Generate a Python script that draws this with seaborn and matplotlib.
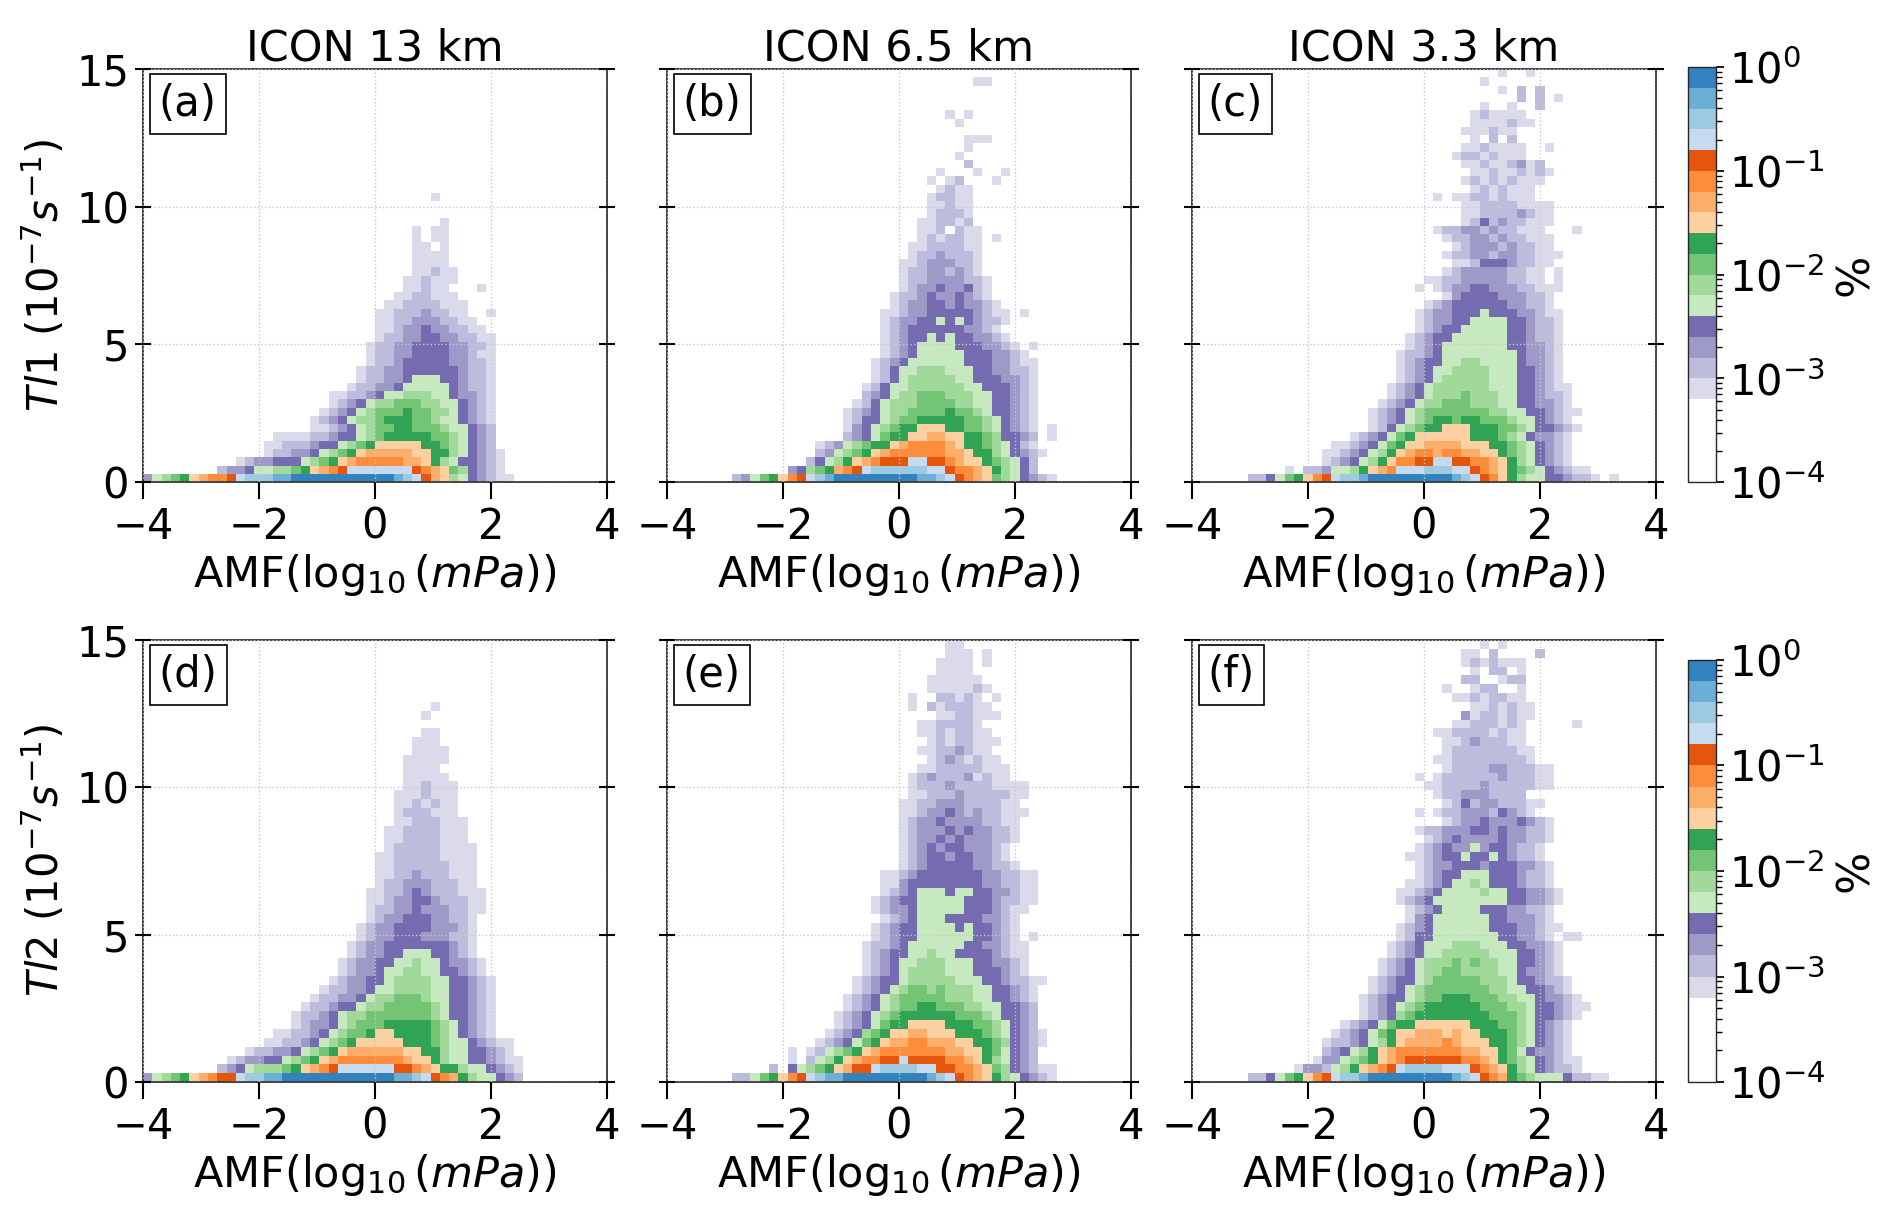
import numpy as np
import matplotlib
matplotlib.use("Agg")
import matplotlib.pyplot as plt
from matplotlib.colors import ListedColormap, LogNorm
from matplotlib.cm import ScalarMappable
import seaborn as sns

# bins of the 2D histograms
X_EDGES = np.linspace(-4, 4, 51)
Y_EDGES = np.linspace(0, 15, 51)

# colour class codes: 1..16 -> 0.2-decade classes from 10^-3.2 to 10^0 (%)
CODES = "123456789ABCDEFG"

TITLES = ["ICON 13 km", "ICON 6.5 km", "ICON 3.3 km"]
PANEL_LABELS = ["(a)", "(b)", "(c)", "(d)", "(e)", "(f)"]
YLABELS = [r"$Tl1$ ($10^{-7}s^{-1}$)", r"$Tl2$ ($10^{-7}s^{-1}$)"]

# each entry = one y-bin row (from y=0 upward): "first x-bin:class codes"
PANEL_A = [
    "0:356789ABBCDEEEFFGGGGGGGGGGGFEDCA96543211",
    "8:23345566789ABCDDDDDDDCBA9764321",
    "10:123344456789ABBBBBAA986544321",
    "13:12233456789AAAAA9988654321",
    "13:1122234456789999988765432",
    "14:111122344567888887765432",
    "18:11234567788777655432",
    "18:12345667888776554321",
    "19:1234567778776654321",
    "20:123456677766554321",
    "20:112234556665543321",
    "22:1223345555543221",
    "23:122334555443221",
    "23:122334444443221",
    "24:12234444433221",
    "24:12233444433211",
    "24:12233444433221",
    "25:1223344332211",
    "25:112334332211",
    "25:11223332211",
    "25:1122232211..1",
    "26:112222111",
    "27:1122111",
    "28:11211...1",
    "28:112111",
    "29:11211",
    "29:1111",
    "29:1111",
    "29:11.1",
    "29:1.11",
    "29:1.11",
    "32:1",
    "",
    "",
    "31:1",
]

PANEL_B = [
    "7:235789BCDEFGGGGGGGGGFFEDCBA97654321",
    "13:34678ABCDEEEEEEDDCBBA986542",
    "15:245689ABCCCDDCCBA99876542",
    "16:2356789ABBBBBBAA988654321",
    "16:123567889ABBBBA988765421",
    "19:234578899AA9988764432.1",
    "19:134567889998877654321.1",
    "19:124456778888877654321",
    "19:123456677778776544321",
    "20:12456667777665544321",
    "21:2345667776665544321",
    "21:1245566666655444321",
    "22:124566666554443321",
    "22:124556665554433221",
    "22:123455555544433211",
    "23:1234555554443321",
    "23:123455554443321.1",
    "23:12344545443321",
    "23:1234444443321",
    "23:12334454543221",
    "23:11233444443211.1",
    "24:123344343321",
    "24:12234334321",
    "25:1233433421",
    "25:1223333221",
    "25:122332321",
    "25:112333221",
    "26:12232221",
    "26:11222211",
    "27:1212211.1",
    "27:112.211",
    "27:112212",
    "28:12221",
    "28:11211",
    "28:12211",
    "29:1211",
    "28:1.12...1",
    "29:1...1..1",
    "32:2",
    "31:1",
    "32:1",
    "32:111",
    "",
    "31:1",
    "30:1.1",
    "",
    "",
    "",
    "33:11",
]

PANEL_C = [
    "6:2245789BCDEEFGGGGGGGGGFEDCB98655443221.1",
    "10:1.22355689ABDDDEEEDDCBA9876543211",
    "14:12345689BBCCDDCCBBA98654321",
    "14:112345689ABBABBAA9987654321",
    "15:1123457899AAAA999887654321",
    "17:123457899999988876543321",
    "19:12456788999888776544321",
    "19:1234567887887776554321",
    "19:12345677777776655443211",
    "20:123456677766655443321",
    "21:12345666766655443221",
    "21:12345666666555443211",
    "22:123456666655544321",
    "22:123455666655544321",
    "22:123445566555543321",
    "22:122345555555543321",
    "23:12345555555443321",
    "23:12344555555443221",
    "24:1234455555443221",
    "24:1233445555443221",
    "24:1233444544433211",
    "25:12344444433221",
    "27:134444333221",
    "24:1.12334433322111",
    "25:1122333332211.1",
    "27:12333332211.1",
    "28:11244432211",
    "27:1223323322111",
    "28:12333232211",
    "27:122332322111",
    "26:122332322111...1",
    "29:1242322111",
    "29:1122223211",
    "29:1122221111",
    "26:1.112212111",
    "30:1212111",
    "29:121212111",
    "30:112112121",
    "29:112112312",
    "28:12212111",
    "29:1121111..1",
    "30:1.2.2",
    "29:111211",
    "30:1111211",
    "30:121111",
    "31:1..1..2",
    "35:2.2.1",
    "33:1.2.2",
    "31:1",
    "33:1..1",
]

PANEL_D = [
    "0:356789ABCCDEEFFGGGGGGGGGGGGFFEDCBA8655432",
    "8:2345666789ABCDDDDDDCCBA9886554321",
    "9:12334456789ABBBBBBBA998655443211",
    "11:12233456789AAAAAA998865544321",
    "13:112234567899999888765543211",
    "14:112234567789988887654321",
    "16:1233456777888887654321",
    "16:1223456677777776544321",
    "17:122344566777776544321",
    "18:12233456677765544321",
    "19:1223345566665544321",
    "20:123344566665544321",
    "21:1233455665544321",
    "21:1233445565543321",
    "22:12334455544321",
    "22:12334444444321",
    "23:1233444333221",
    "23:1233444433321",
    "24:123344433221",
    "24:1223343332211",
    "24:1123344322211",
    "24:1122343222111",
    "25:12233322211",
    "25:11223222111",
    "25:11222222111",
    "25:11222221111",
    "26:1222221111",
    "26:112222111",
    "26:112222111",
    "27:11222111",
    "27:1222111",
    "27:1121211",
    "27:1112111",
    "28:112111",
    "28:11111",
    "28:1111",
    "28:11111",
    "29:1111",
    "29:111",
    "30:11",
    "",
    "30:1",
    "31:1",
]

PANEL_E = [
    "7:225789BCDEFFGGGGGGGGGFEDCBA98654321",
    "11:2.456789ACCDEEEEDDCCBBA97643211",
    "13:1.25689ABBCCDCCCCBBA9865432",
    "13:1.1256789ABBBBBBBAA99875432",
    "16:12345789AABBAAA9988764321",
    "17:123467899AA9998887654321",
    "18:1234578899998887765432",
    "18:1234567888888777654432",
    "19:123456778877766554432",
    "19:123456777776665544321",
    "20:12345677676665544321",
    "20:123445666665554432211",
    "21:123456666555444321",
    "21:123455666555443321",
    "21:123445565544443211",
    "21:122345555554433211",
    "22:1234455555544321.1",
    "22:1234455554544321",
    "23:123455544443321",
    "22:12334555554443211",
    "22:123445555544432211",
    "23:12345554554433211",
    "23:11344444444332211",
    "23:11234444444332211",
    "25:1234444433221",
    "25:123443443321",
    "25:123434433321",
    "25:1233434333221",
    "25:1233343433221",
    "25:1233433332211",
    "25:11233432322111",
    "25:1122333222211",
    "26:1122232222211",
    "26:1222322221111",
    "26:12322231211",
    "27:1122222111",
    "28:12321211",
    "27:11223211",
    "28:12122111",
    "27:11212211",
    "27:1122221",
    "29:1122111",
    "26:1.2122211",
    "26:1..22121.1",
    "28:1111121",
    "28:111111",
    "29:1111",
    "29:1111.1",
    "30:111.1",
    "30:11",
]

PANEL_F = [
    "6:2245789BCDEEFGGGGGGGGGFEDCBA87655542211",
    "11:13325689ABCDEEEEDDDCBA986543221",
    "13:13356789ABCCCCCCBBA9876543211",
    "14:2345689ABBBBBBBAA9987543321",
    "14:122345689AAAABA999887654321",
    "15:123457899AAA9A998887654321",
    "16:1234578899999988877654321",
    "18:123467888888887776544321",
    "18:1234567888888777665443211",
    "18:123445677888777665543321",
    "19:1234567777777665544321",
    "19:1234456777776665443221",
    "20:12345667766665543321",
    "20:12345666767665544321",
    "21:1234556666655544321",
    "21:1234555666555443321",
    "22:12445555555443321.11",
    "22:123455555544433211",
    "23:1345555554433321",
    "23:1234555544433221",
    "22:123455555555443321",
    "22:112345555655443321",
    "23:1123455654443221",
    "24:123445554443221",
    "24:123344434443321",
    "23:112344544543221",
    "24:12343353443221",
    "25:12343333433221",
    "24:122333443433221",
    "27:123343334321",
    "24:1.12233324321",
    "27:12423322211",
    "26:1223332222",
    "25:11222232222211",
    "24:1.1222222322211",
    "27:122223322211",
    "26:11222222221",
    "27:1222222211",
    "27:112322211",
    "26:1122221211",
    "28:11222121.....1",
    "29:31221211",
    "30:1121211",
    "28:11212211",
    "27:1..122..1",
    "29:22..122",
    "30:1.22.1",
    "29:1212111",
    "29:11.2....2",
    "31:1.1",
]

PANELS = [PANEL_A, PANEL_B, PANEL_C, PANEL_D, PANEL_E, PANEL_F]


def expand(rows):
    """Turn the row strings into bin centres and percentage weights"""
    xc = 0.5 * (X_EDGES[:-1] + X_EDGES[1:])
    yc = 0.5 * (Y_EDGES[:-1] + Y_EDGES[1:])
    xs, ys, ws = [], [], []
    for j, row in enumerate(rows):
        if not row:
            continue
        start, codes = row.split(":")
        for k, c in enumerate(codes):
            if c == ".":
                continue
            level = CODES.index(c)
            xs.append(xc[int(start) + k])
            ys.append(yc[j])
            ws.append(10 ** (-3.1 + 0.2 * level))
    return xs, ys, ws


sns.set_theme(style="ticks")
plt.rcParams["font.family"] = ["DejaVu Sans"]
plt.rcParams["mathtext.fontset"] = "dejavusans"
for key in ("text.color", "axes.labelcolor", "xtick.color", "ytick.color"):
    plt.rcParams[key] = "black"

# 4 white classes below 10^-3.2, then tab20c purples, greens, oranges, blues
level_colors = list(sns.color_palette("tab20c", 20))[:16][::-1]
cmap = ListedColormap(["white"] * 4 + level_colors)
norm = LogNorm(vmin=1e-4, vmax=1)

fig = plt.figure(figsize=(18.92, 12.17), dpi=100)

lefts = [0.0756, 0.3525, 0.630]
rows_geom = [(0.6039, 0.3394), (0.1109, 0.3632)]
FS = 30

for idx, rows in enumerate(PANELS):
    r, c = divmod(idx, 3)
    bottom, height = rows_geom[r]
    ax = fig.add_axes([lefts[c], bottom, 0.2452, height])
    xs, ys, ws = expand(rows)
    sns.histplot(x=xs, y=ys, weights=ws, bins=[X_EDGES, Y_EDGES],
                 cmap=cmap, ax=ax, cbar=False)
    mesh = ax.collections[-1]
    mesh.set_norm(norm)

    ax.set_xlim(-4, 4)
    ax.set_ylim(0, 15)
    ax.set_xticks([-4, -2, 0, 2, 4])
    ax.set_yticks([0, 5, 10, 15])
    ax.grid(True, linestyle=":", linewidth=1.0, color="#c8c8c8")
    ax.set_axisbelow(False)
    for sp in ax.spines.values():
        sp.set_visible(True)
        sp.set_color("#333333")
        sp.set_linewidth(1.3)
    ax.tick_params(axis="x", direction="out", length=12, width=1.5,
                   labelsize=FS, pad=5)
    ax.tick_params(axis="y", direction="inout", length=12, width=1.5,
                   left=True, right=True, labelsize=FS, pad=4)
    ax.set_xlabel(r"AMF($\log_{10}(mPa)$)", fontsize=FS + 1, labelpad=3)
    if c == 0:
        ax.set_ylabel(YLABELS[r], fontsize=FS, labelpad=6)
    else:
        ax.set_ylabel("")
        ax.tick_params(axis="y", labelleft=False)
    if r == 0:
        ax.set_title(TITLES[c], fontsize=FS + 1, pad=5)

    ytop = 1 - 13.7 / (height * 1217)
    ax.text(0.034, ytop, PANEL_LABELS[idx], transform=ax.transAxes,
            ha="left", va="top", fontsize=FS, zorder=5,
            bbox=dict(boxstyle="square,pad=0.22", fc="white", ec="black",
                      lw=1.2))

# colour bars, one per row
for cb_rect in ([0.8922, 0.6039, 0.0148, 0.341],
                [0.8922, 0.1109, 0.0148, 0.3468]):
    cax = fig.add_axes(cb_rect)
    sm = ScalarMappable(norm=norm, cmap=cmap)
    cb = fig.colorbar(sm, cax=cax)
    cb.set_label("%", fontsize=FS + 2, labelpad=6)
    cb.ax.tick_params(labelsize=FS)
    cb.outline.set_linewidth(1.0)

fig.savefig("out.png", dpi=100)
